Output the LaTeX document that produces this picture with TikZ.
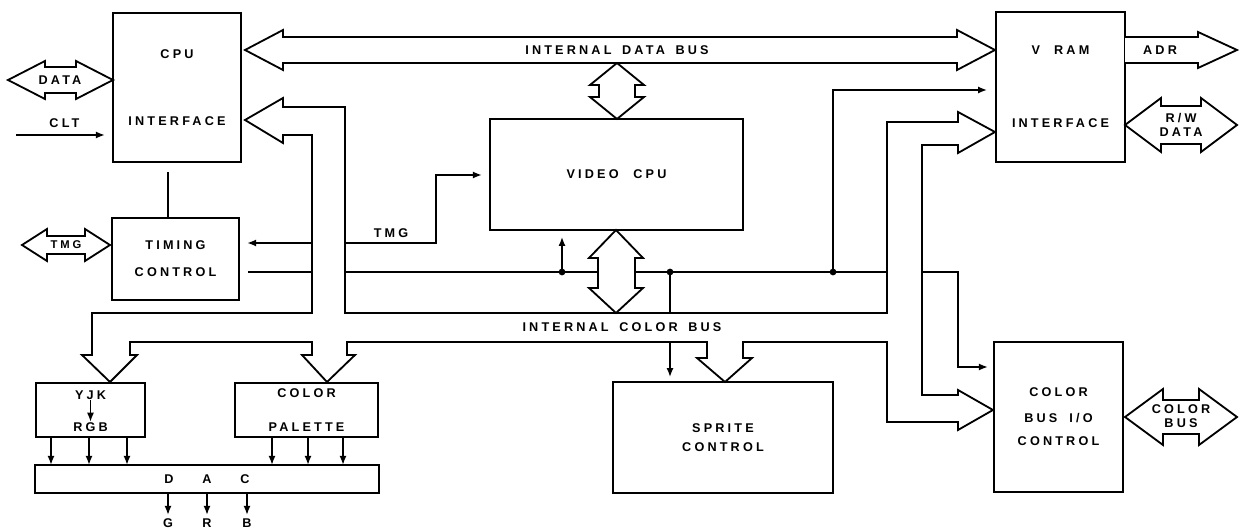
\documentclass[tikz,border=0pt]{standalone}
\usepackage{fontspec}
\setmainfont{Liberation Sans}[LetterSpace=25]
\usepackage{tikz}
\usetikzlibrary{arrows.meta}
\newcommand{\busarrow}[6]{%
  \draw[bus] (#1,#3) -- ({#1+#6},{#3-#5}) -- ({#1+#6},{#3-#4}) -- ({#2-#6},{#3-#4}) -- ({#2-#6},{#3-#5}) -- (#2,#3) -- ({#2-#6},{#3+#5}) -- ({#2-#6},{#3+#4}) -- ({#1+#6},{#3+#4}) -- ({#1+#6},{#3+#5}) -- cycle;}

\begin{document}
\begin{tikzpicture}[x=0.025cm, y=-0.025cm, >={Latex[length=6.5pt,width=5pt]},
  every node/.style={font=\fontsize{9}{10.5}\selectfont\bfseries},
  box/.style={draw, line width=1.5pt, inner sep=0pt, outer sep=0pt, align=center},
  sig/.style={line width=1.2pt},
  bus/.style={draw, line width=1.3pt, fill=white}]
  \useasboundingbox (0,0) rectangle (1240,530);
  \node[box, minimum width=3.2cm, minimum height=3.725cm] (cpu) at (177,87.5) {CPU\\[1.3cm]INTERFACE};
  \node[box, minimum width=3.225cm, minimum height=3.75cm] (vram) at (1060.5,87) {V\hspace{0.35cm}RAM\\[1.45cm]INTERFACE};
  \node[box, minimum width=6.325cm, minimum height=2.775cm] (vcpu) at (616.5,174.5) {VIDEO\hspace{0.2cm} CPU};
  \node[box, minimum width=3.175cm, minimum height=2.05cm] (timing) at (175.5,259) {TIMING\\[0.3cm]CONTROL};
  \node[box, minimum width=2.725cm, minimum height=1.35cm] (yjk) at (90.5,410) {};
  \node (yjkt) at (90.5,395) {YJK};
  \node (rgbt) at (90.5,427) {RGB};
  \node[box, minimum width=3.575cm, minimum height=1.35cm] (pal) at (306.5,410) {COLOR\\[0.47cm]PALETTE};
  \node[box, minimum width=8.6cm, minimum height=0.7cm] (dac) at (207,479) {D\hspace{0.72cm}A\hspace{0.72cm}C};
  \node[box, minimum width=5.5cm, minimum height=2.775cm] (sprite) at (723,437.5) {SPRITE\\[0.12cm]CONTROL};
  \node[box, minimum width=3.225cm, minimum height=3.75cm] (cbio) at (1058.5,417) {COLOR\\[0.27cm]BUS\hspace{0.3cm}I/O\\[0.22cm]CONTROL};

  \draw[sig,->, line width=0.9pt, shorten <=-3pt, shorten >=-3pt] (yjkt) -- (rgbt);
  \coordinate (ct) at ([xshift=-0.22cm]cpu.south);
  \draw[sig, shorten <=0.25cm] (ct) -- (ct |- timing.north);
  \coordinate (cltin) at (16,135);
  \draw[sig,->, shorten >=0.2cm] (cltin) -- (cpu.west |- cltin) node[midway, above=1pt] (clt) {CLT};
  \coordinate (tmgk) at (436,243);
  \coordinate (tmgv) at (436,175);
  \draw[sig,<->, shorten <=0.2cm, shorten >=0.2cm] (timing.east |- tmgk) -- (tmgk) -- (tmgv) -- (vcpu.west |- tmgv);
  \node (tmglbl) at (391,233) {TMG};
  \coordinate (ctl) at (958,272);
  \coordinate (ctlb) at (958,367);
  \draw[sig,->, shorten <=0.22cm, shorten >=0.15cm] (timing.east |- ctl) -- (ctl) -- (ctlb) -- (cbio.west |- ctlb);
  \coordinate (d1) at (562,272);
  \coordinate (d2) at (670,272);
  \coordinate (d3) at (833,272);
  \coordinate (d3up) at (833,90);
  \foreach \d in {d1,d2,d3} \fill (\d) circle (2.4pt);
  \draw[sig,->, shorten >=0.17cm] (d1) -- (d1 |- vcpu.south);
  \draw[sig,->, shorten >=0.12cm] (d2) -- (d2 |- sprite.north);
  \draw[sig,->, shorten >=0.22cm] (d3) -- (d3up) -- (vram.west |- d3up);
  \foreach \x in {51,89,127} {\coordinate (tx) at (\x,0); \draw[sig,->] (tx |- yjk.south) -- (tx |- dac.north);}
  \foreach \x in {272,308,343} {\coordinate (tx) at (\x,0); \draw[sig,->] (tx |- pal.south) -- (tx |- dac.north);}
  \foreach \x/\c in {168/G,207/R,247/B} {\coordinate (tx) at (\x,515); \draw[sig,->] (tx |- dac.south) -- (tx) node[below=-1pt] (out\c) {\c};}

  \draw[bus] (245,120) -- (283,98) -- (283,107) -- (345,107) -- (345,313) -- (887,313) -- (887,122) -- (958,122) -- (958,112) -- (995,132) -- (958,153) -- (958,145) -- (922,145) -- (922,395) -- (958,395) -- (958,390) -- (993,410) -- (958,430) -- (958,422) -- (887,422) -- (887,342) -- (743,342) -- (743,358) -- (752,358) -- (725,382) -- (697,358) -- (707,358) -- (707,342) -- (347,342) -- (347,355) -- (355,355) -- (327,382) -- (302,355) -- (312,355) -- (312,342) -- (130,342) -- (130,355) -- (137,355) -- (110,382) -- (82,355) -- (92,355) -- (92,313) -- (312,313) -- (312,135) -- (283,135) -- (283,143) -- cycle;
  \busarrow{245}{995}{50}{13}{20}{38}
  \busarrow{8}{113}{80}{13}{19}{37}
  \busarrow{22}{110}{245}{9}{16}{25}
  \busarrow{1125}{1237}{125}{19}{27}{36}
  \busarrow{1125}{1237}{417}{17}{28}{38}
  \draw[bus] (vram.east |- 0,37) -- (1198,37) -- (1198,32) -- (1237,50) -- (1198,68) -- (1198,63) -- (vram.east |- 0,63);
  \draw[bus] (617,63) -- (644,85) -- (635,85) -- (635,97) -- (644,97) -- (617,119) -- (590,97) -- (599,97) -- (599,85) -- (590,85) -- cycle;
  \draw[bus] (616,230) -- (643,258) -- (635,258) -- (635,288) -- (643,288) -- (616,313) -- (589,288) -- (598,288) -- (598,258) -- (589,258) -- cycle;

  \node (dbus) at (617,50) {INTERNAL\hspace{0.1cm} DATA\hspace{0.1cm} BUS};
  \node (cbus) at (622,327) {INTERNAL\hspace{0.1cm} COLOR\hspace{0.1cm} BUS};
  \node (datalbl) at (60,80) {DATA};
  \node[font=\fontsize{8}{9}\selectfont\bfseries] (tmgext) at (66,245) {TMG};
  \node (adrlbl) at (1160,50) {ADR};
  \node[align=center] (rwlbl) at (1181,125) {R/W\\[-1pt]DATA};
  \node[align=center] (cbuslbl) at (1181,416) {COLOR\\[-1pt]BUS};
\end{tikzpicture}
\end{document}
